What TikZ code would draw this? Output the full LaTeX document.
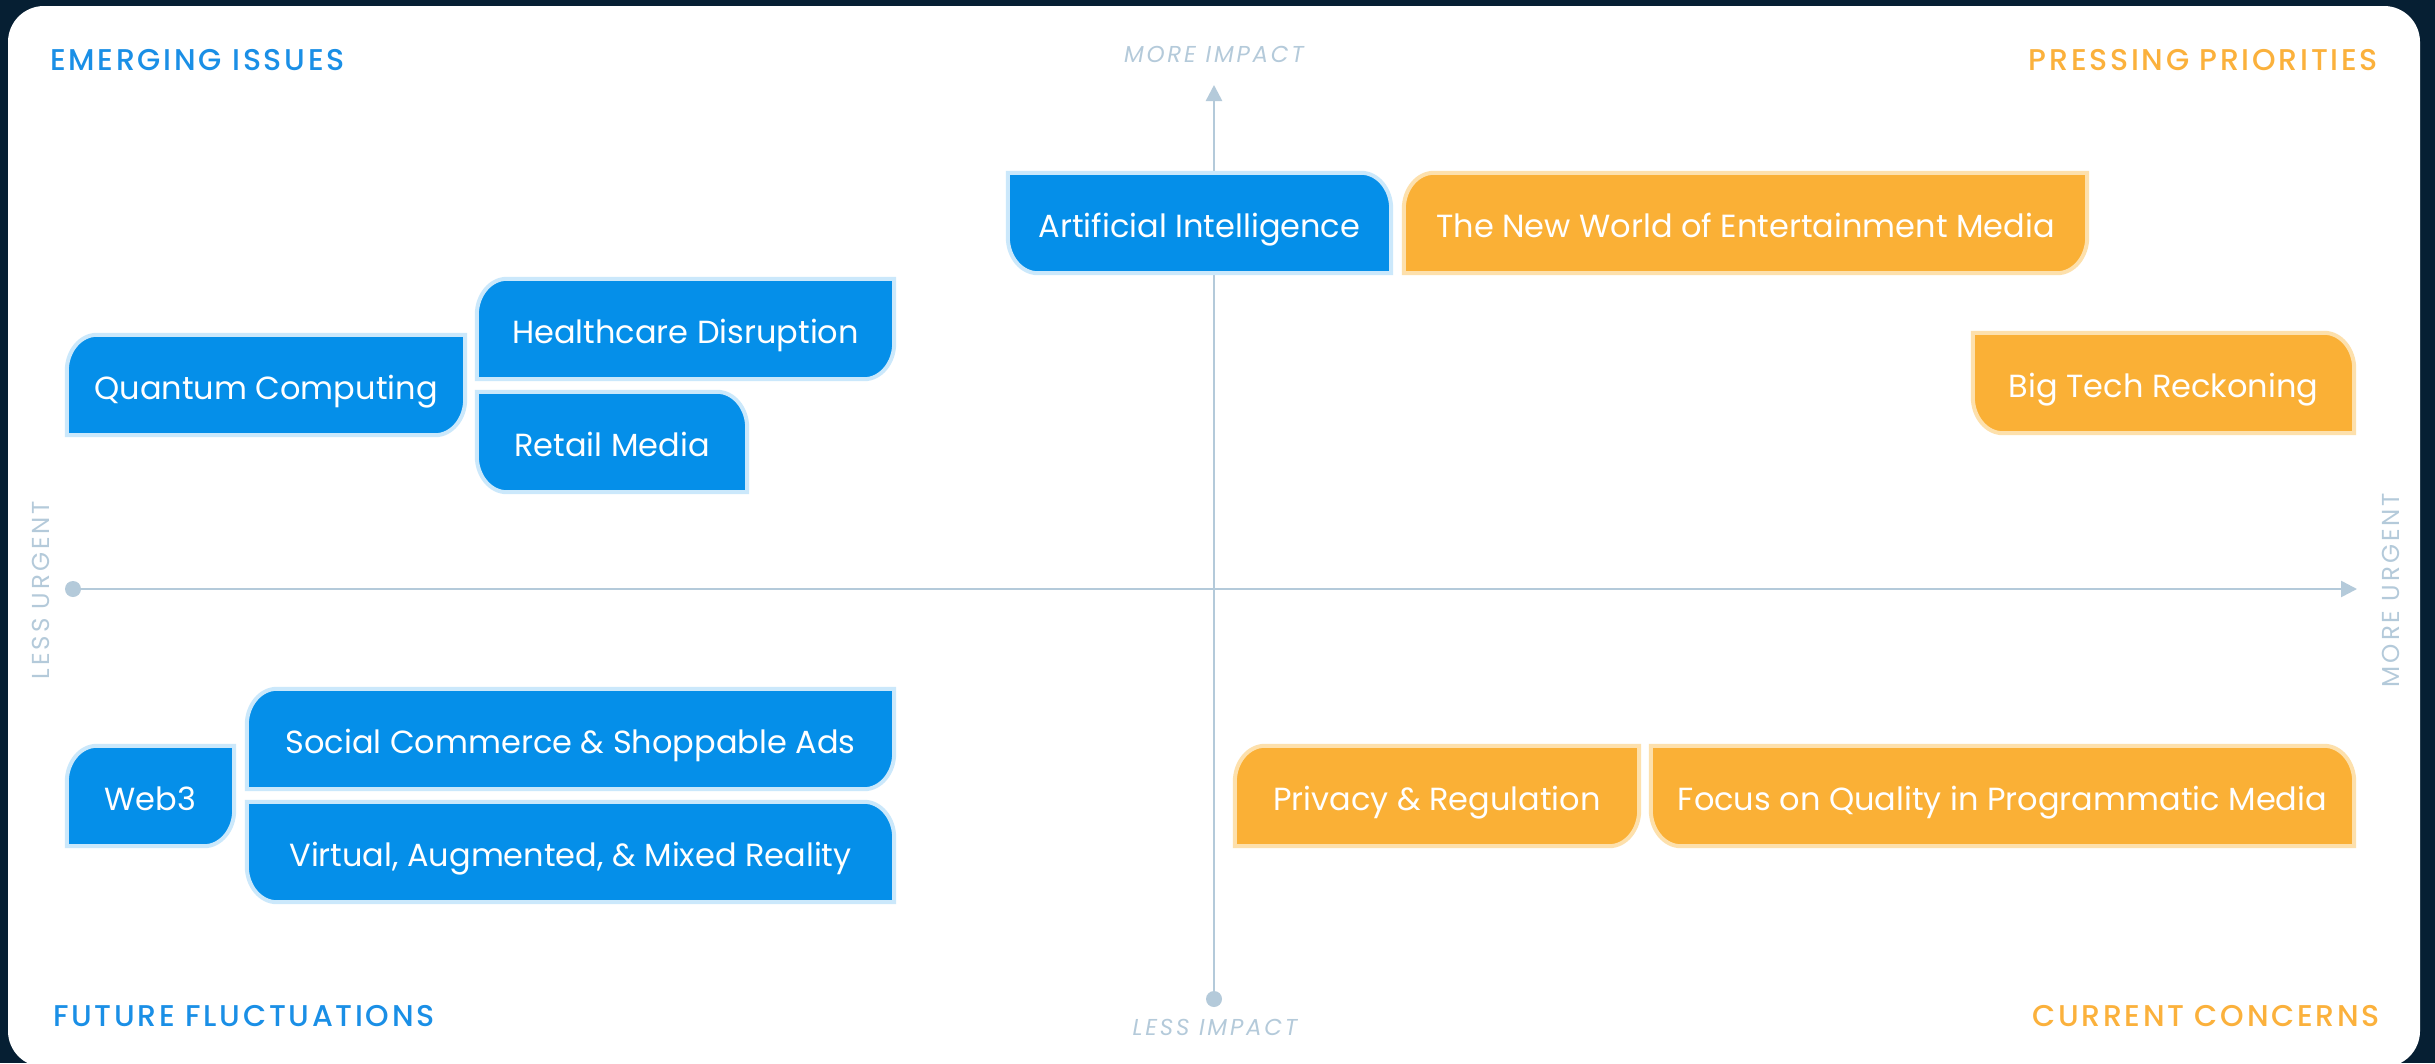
\documentclass[tikz,border=0pt]{standalone}
\usepackage{fontspec}
\setmainfont{Poppins}
\newfontfamily\headfont[LetterSpace=9]{Poppins Medium}
\newfontfamily\axisfont[LetterSpace=12]{Poppins}
\usetikzlibrary{calc,arrows.meta,backgrounds}

\definecolor{pagebg}{HTML}{061F33}
\definecolor{tileblue}{HTML}{058FE9}
\definecolor{edgeblue}{HTML}{CBE8FB}
\definecolor{tileorange}{HTML}{FAB036}
\definecolor{edgeorange}{HTML}{FDE0AC}
\definecolor{headblue}{HTML}{1A8FE6}
\definecolor{headorange}{HTML}{FBB13C}
\definecolor{axisgray}{HTML}{B4CADA}

% corner radii of the tiles (horizontal / vertical)
\newcommand\tilerx{30}
\newcommand\tilery{36}

% tile with rounded top-left and bottom-right corners
\newcommand\tileTLBR[3]{%
  \path[fill=#2, draw=#3, line width=4pt]
    (#1.south west) -- ($(#1.north west)+(0,-\tilery)$)
    .. controls ($(#1.north west)+(0,-0.45*\tilery)$) and ($(#1.north west)+(0.45*\tilerx,0)$) .. ($(#1.north west)+(\tilerx,0)$)
    -- (#1.north east) -- ($(#1.south east)+(0,\tilery)$)
    .. controls ($(#1.south east)+(0,0.45*\tilery)$) and ($(#1.south east)+(-0.45*\tilerx,0)$) .. ($(#1.south east)+(-\tilerx,0)$)
    -- cycle;}
% tile with rounded top-right and bottom-left corners
\newcommand\tileTRBL[3]{%
  \path[fill=#2, draw=#3, line width=4pt]
    (#1.north west) -- ($(#1.north east)+(-\tilerx,0)$)
    .. controls ($(#1.north east)+(-0.45*\tilerx,0)$) and ($(#1.north east)+(0,-0.45*\tilery)$) .. ($(#1.north east)+(0,-\tilery)$)
    -- (#1.south east) -- ($(#1.south west)+(\tilerx,0)$)
    .. controls ($(#1.south west)+(0.45*\tilerx,0)$) and ($(#1.south west)+(0,0.45*\tilery)$) .. ($(#1.south west)+(0,\tilery)$)
    -- cycle;}

\tikzset{
  tile/.style={rectangle, inner sep=0pt, text=white, minimum height=100pt,
    text height=28pt, text depth=0pt,
    font=\fontsize{32}{32}\selectfont},
  heading/.style={inner sep=0pt, font=\headfont\fontsize{30}{30}\selectfont},
  axislabel/.style={inner sep=0pt, text=axisgray, font=\axisfont\fontsize{23}{23}\selectfont},
  sidelabel/.style={axislabel, rotate=90, font=\axisfont\fontsize{24.5}{24.5}\selectfont},
  axisline/.style={draw=axisgray, line width=2.5pt, -{Triangle[width=16pt,length=16pt]}},
  axisdot/.style={circle, fill=axisgray, inner sep=0pt, minimum size=16pt},
}

\begin{document}
\begin{tikzpicture}[x=1pt, y=1pt]
\useasboundingbox (0,0) rectangle (2435,-1063);

% quadrant headings
\node[heading, text=headblue, anchor=base west] (emerging) at (50,-70) {EMERGING ISSUES};
\node[heading, text=headorange, anchor=base east] (pressing) at (2378,-70) {PRESSING PRIORITIES};
\node[heading, text=headblue, anchor=base west] (future) at (53,-1026) {FUTURE FLUCTUATIONS};
\node[heading, text=headorange, anchor=base east] (current) at (2380,-1026) {CURRENT CONCERNS};

% axis labels
\node[axislabel, anchor=base] (moreimpact) at (1214,-62) {\itshape MORE IMPACT};
\node[axislabel, anchor=base] (lessimpact) at (1215,-1035) {\itshape LESS IMPACT};
\node[sidelabel] (lessurgent) at (41,-590) {LESS URGENT};
\node[sidelabel] (moreurgent) at (2391,-590) {MORE URGENT};

% axis end points
\node[axisdot] (vdot) at (1214,-999) {};
\coordinate (vtip) at (1214,-85);
\node[axisdot] (hdot) at (73,-589) {};
\coordinate (htip) at (2357,-589);

% tiles
\node[tile, minimum width=383pt] (ai) at (1199.5,-223) {Artificial Intelligence};
\node[tile, minimum width=683pt] (entertainment) at (1745.5,-223) {The New World of Entertainment Media};
\node[tile, minimum width=417pt] (healthcare) at (685.5,-329) {Healthcare Disruption};
\node[tile, minimum width=398pt] (quantum) at (266,-385) {Quantum Computing};
\node[tile, minimum width=270pt] (retail) at (612,-442) {Retail Media};
\node[tile, minimum width=381pt] (bigtech) at (2163.5,-383) {Big Tech Reckoning};
\node[tile, minimum width=647pt] (social) at (570.5,-739) {Social Commerce \& Shoppable Ads};
\node[tile, minimum width=167pt] (web3) at (150.5,-796) {Web3};
\node[tile, minimum width=647pt] (virtual) at (570.5,-852) {Virtual, Augmented, \& Mixed Reality};
\node[tile, minimum width=404pt] (privacy) at (1437,-796) {Privacy \& Regulation};
\node[tile, minimum width=703pt] (quality) at (2002.5,-796) {Focus on Quality in Programmatic Media};

\begin{scope}[on background layer]
  % page and white panel
  \fill[pagebg] (0,0) rectangle (2435,-1063);
  \fill[white, rounded corners=36pt] (8,-6) rectangle (2420,-1067);
  % axes
  \draw[axisline] (vdot.center) -- (vtip);
  \draw[axisline] (hdot.center) -- (htip);
  % tile shapes
  \tileTRBL{ai}{tileblue}{edgeblue}
  \tileTLBR{entertainment}{tileorange}{edgeorange}
  \tileTLBR{healthcare}{tileblue}{edgeblue}
  \tileTLBR{quantum}{tileblue}{edgeblue}
  \tileTRBL{retail}{tileblue}{edgeblue}
  \tileTRBL{bigtech}{tileorange}{edgeorange}
  \tileTLBR{social}{tileblue}{edgeblue}
  \tileTLBR{web3}{tileblue}{edgeblue}
  \tileTRBL{virtual}{tileblue}{edgeblue}
  \tileTLBR{privacy}{tileorange}{edgeorange}
  \tileTRBL{quality}{tileorange}{edgeorange}
\end{scope}
\end{tikzpicture}
\end{document}
